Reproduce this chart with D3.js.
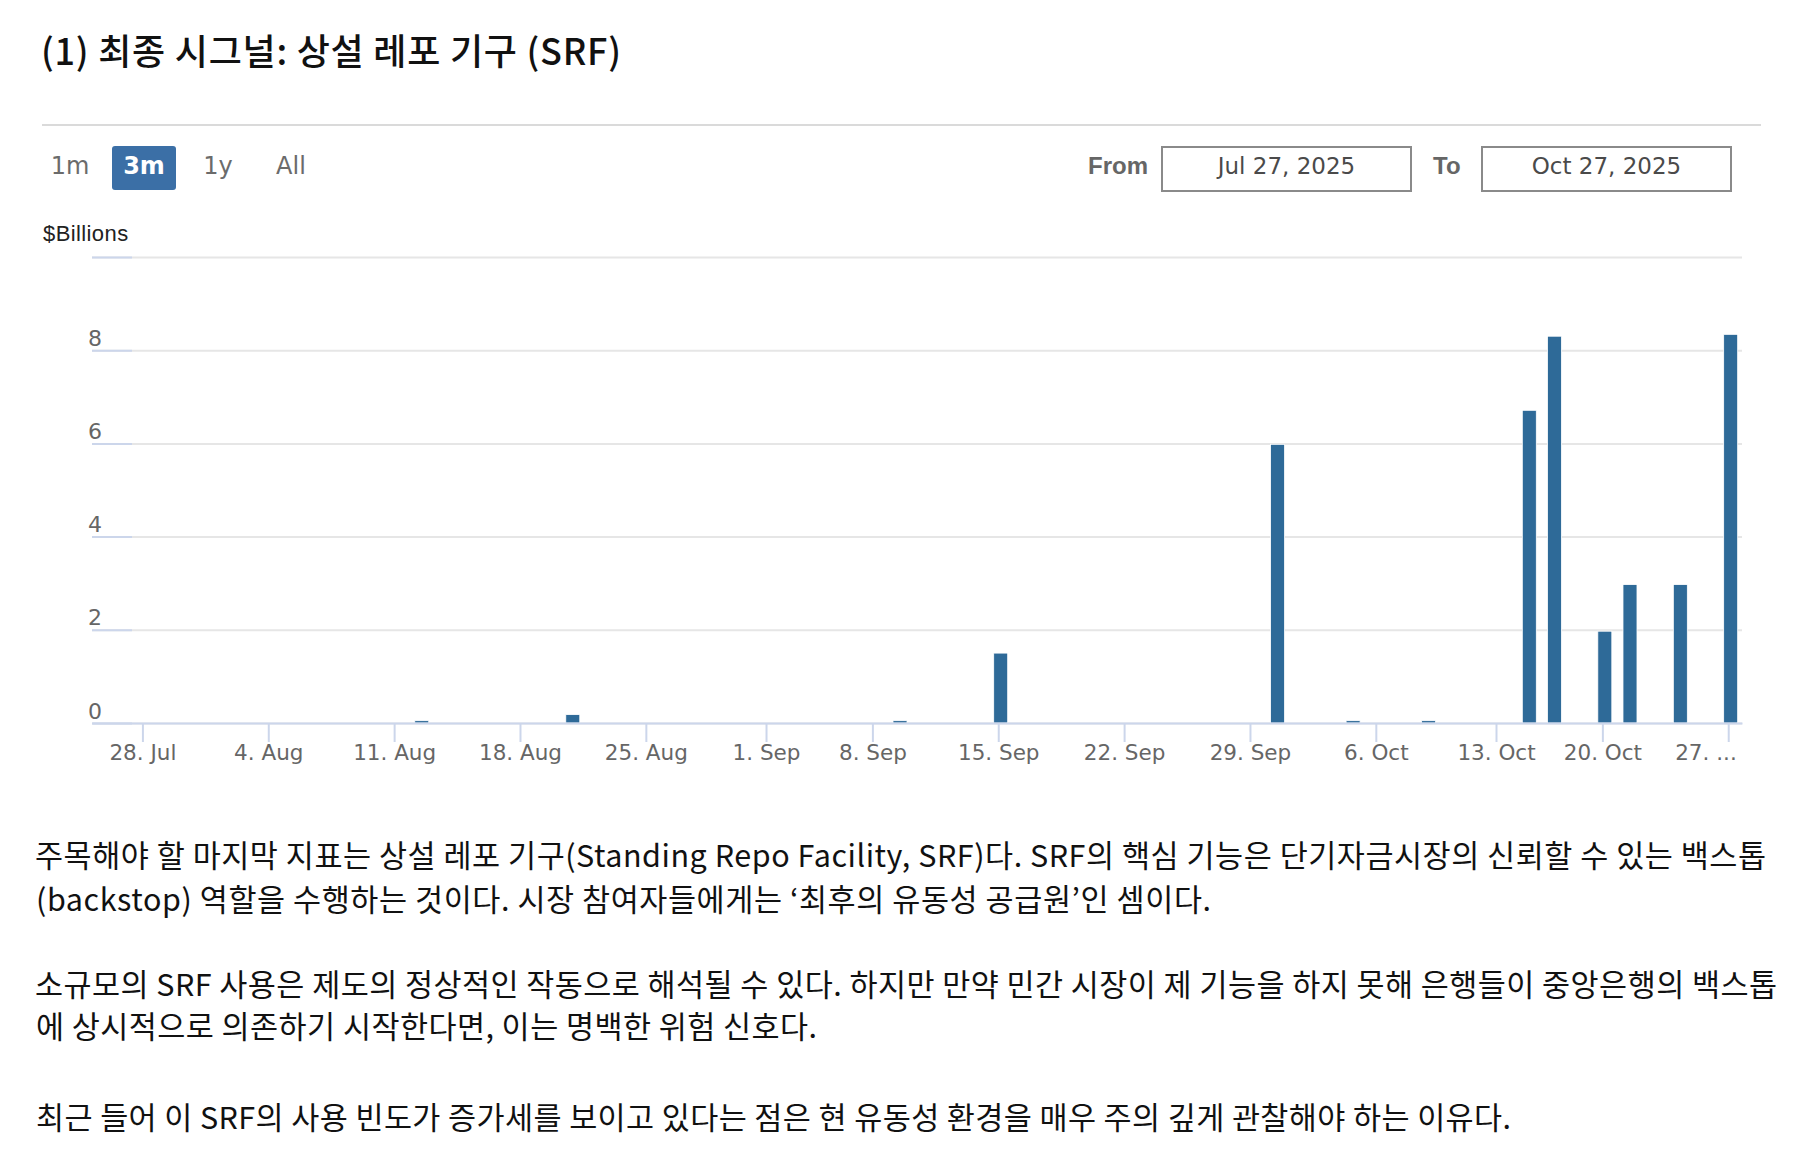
<!DOCTYPE html>
<meta charset="utf-8">
<style>
    html, body { margin: 0; padding: 0; background: #fff; }
    svg { display: block; }
    .kr { font-family: "Noto Sans CJK KR", sans-serif; fill: #111; }
    .ui { font-family: "DejaVu Sans", sans-serif; }
    .lab { font-family: "Liberation Sans", Arial, sans-serif; }
</style>
<svg id="page" width="1812" height="1172"></svg>
<script src="https://d3js.org/d3.v7.min.js"></script>
<script>
    // SRF take-up, $ billions (every other trading day is 0)
    const useDates = ["2025-08-12", "2025-08-20", "2025-09-09", "2025-09-15", "2025-09-30", "2025-10-03",
        "2025-10-08", "2025-10-15", "2025-10-16", "2025-10-20", "2025-10-21", "2025-10-23", "2025-10-27"];
    const useValues = [0.05, 0.18, 0.05, 1.5, 5.98, 0.05, 0.05, 6.71, 8.30, 1.97, 2.97, 2.97, 8.34];

    // trading calendar shown in the window (market holidays have no point)
    const firstDay = "2025-07-24", lastDay = "2025-10-27";
    const holidays = ["2025-09-01", "2025-10-13"];

    const tickDates = ["2025-07-28", "2025-08-04", "2025-08-11", "2025-08-18", "2025-08-25", "2025-09-01", "2025-09-08",
        "2025-09-15", "2025-09-22", "2025-09-29", "2025-10-06", "2025-10-13", "2025-10-20", "2025-10-27"];
    const tickLabels = ["28. Jul", "4. Aug", "11. Aug", "18. Aug", "25. Aug", "1. Sep", "8. Sep",
        "15. Sep", "22. Sep", "29. Sep", "6. Oct", "13. Oct", "20. Oct", "27. ..."];
    const yTicks = [0, 2, 4, 6, 8, 10];
    const yLabels = [0, 2, 4, 6, 8];

    const rangeButtons = ["1m", "3m", "1y", "All"];
    const activeButton = "3m";
    const fromDate = "Jul 27, 2025", toDate = "Oct 27, 2025";

    const title = "(1) 최종 시그널: 상설 레포 기구 (SRF)";
    const bodyLines = [
        "주목해야 할 마지막 지표는 상설 레포 기구(Standing Repo Facility, SRF)다. SRF의 핵심 기능은 단기자금시장의 신뢰할 수 있는 백스톱",
        "(backstop) 역할을 수행하는 것이다. 시장 참여자들에게는 ‘최후의 유동성 공급원’인 셈이다.",
        "소규모의 SRF 사용은 제도의 정상적인 작동으로 해석될 수 있다. 하지만 만약 민간 시장이 제 기능을 하지 못해 은행들이 중앙은행의 백스톱",
        "에 상시적으로 의존하기 시작한다면, 이는 명백한 위험 신호다.",
        "최근 들어 이 SRF의 사용 빈도가 증가세를 보이고 있다는 점은 현 유동성 환경을 매우 주의 깊게 관찰해야 하는 이유다."
    ];

    const svg = d3.select("#page");
    const parse = d3.utcParse("%Y-%m-%d");
    const fmt = d3.utcFormat("%Y-%m-%d");

    // ---- title + rule ----
    svg.append("text").attr("class", "kr")
        .attr("x", 41).attr("y", 65)
        .style("font-size", "36px").style("font-weight", 500)
        .attr("textLength", 580).attr("lengthAdjust", "spacing")
        .text(title);

    svg.append("line")
        .attr("x1", 42).attr("x2", 1761).attr("y1", 125).attr("y2", 125)
        .attr("stroke", "#dadada").attr("stroke-width", 2);

    // ---- range selector ----
    const btnX = [70, 144, 218, 291];
    svg.append("rect")
        .attr("x", 112).attr("y", 146).attr("width", 64).attr("height", 44).attr("rx", 3)
        .attr("fill", "#3b6fa6");
    svg.selectAll(".btn").data(rangeButtons).join("text")
        .attr("class", "btn ui")
        .attr("x", (d, i) => btnX[i]).attr("y", 174)
        .attr("text-anchor", "middle")
        .style("font-size", "24px")
        .style("font-weight", d => d === activeButton ? "bold" : "normal")
        .attr("fill", d => d === activeButton ? "#fff" : "#6b6b6b")
        .text(d => d);

    // from / to inputs
    const inputs = [
        { label: "From", lx: 1088, bx: 1162, value: fromDate },
        { label: "To", lx: 1433, bx: 1482, value: toDate }
    ];
    inputs.forEach(o => {
        svg.append("text").attr("class", "lab")
            .attr("x", o.lx).attr("y", 174)
            .style("font-size", "24px").style("font-weight", "bold")
            .attr("fill", "#666").text(o.label);
        svg.append("rect")
            .attr("x", o.bx).attr("y", 147).attr("width", 249).attr("height", 44)
            .attr("fill", "none").attr("stroke", "#8a8a8a").attr("stroke-width", 2);
        svg.append("text").attr("class", "ui")
            .attr("x", o.bx + 124.5).attr("y", 174)
            .attr("text-anchor", "middle")
            .style("font-size", "23px").attr("fill", "#4a4a4a")
            .text(o.value);
    });

    svg.append("text").attr("class", "lab")
        .attr("x", 43).attr("y", 241)
        .style("font-size", "22px").attr("fill", "#222")
        .attr("letter-spacing", 0.4)
        .text("$Billions");

    // ---- chart ----
    const days = d3.utcDay.range(parse(firstDay), d3.utcDay.offset(parse(lastDay), 1))
        .filter(d => d.getUTCDay() % 6 !== 0 && !holidays.includes(fmt(d)));
    const valueOf = new Map(useDates.map((d, i) => [d, useValues[i]]));
    const data = days.map((d, i) => ({ i, date: d, value: valueOf.get(fmt(d)) || 0 }));

    // ordinal axis: points are evenly spaced; calendar dates are interpolated between neighbouring points
    const pointTimes = days.map(d => +d + 7 * 3600e3);
    function ordinalIndex(t) {
        const k = d3.bisectRight(pointTimes, t);
        const a = pointTimes[k - 1], b = pointTimes[k];
        return k - 1 + (t - a) / (b - a);
    }

    const x = d3.scaleLinear().domain([-0.1, days.length - 1 + 0.45]).range([92, 1742]);
    const y = d3.scaleLinear().domain([0, 10]).range([723, 257]);

    // gridlines
    svg.append("g")
        .attr("transform", "translate(92,0)")
        .call(d3.axisLeft(y).tickValues(yTicks).tickSize(-1650).tickFormat(""))
        .call(g => g.select(".domain").remove())
        .call(g => g.selectAll("line").attr("stroke", "#e6e6e6").attr("stroke-width", 2));

    // short y ticks + labels
    svg.append("g")
        .attr("transform", "translate(92,0)")
        .call(d3.axisLeft(y).tickValues(yTicks).tickSize(-40).tickFormat(d => yLabels.includes(d) ? d : ""))
        .call(g => g.select(".domain").remove())
        .call(g => g.selectAll("line").attr("stroke", "#ccd6eb").attr("stroke-width", 2))
        .call(g => g.selectAll("text")
            .attr("x", -4).attr("y", -5).attr("dy", null)
            .attr("text-anchor", "start")
            .attr("fill", "#666")
            .style("font-family", "DejaVu Sans").style("font-size", "22px"));

    // bars
    svg.append("g").selectAll("rect")
        .data(data.filter(d => d.value > 0))
        .join("rect")
        .attr("x", d => x(d.i) - 7)
        .attr("width", 14)
        .attr("y", d => y(d.value))
        .attr("height", d => y(0) - y(d.value))
        .attr("fill", "#2e6a98")
        .attr("stroke", "#fff").attr("stroke-width", 0.8);

    // x axis
    const tickIdx = tickDates.map(d => ordinalIndex(+parse(d)));
    svg.append("g")
        .attr("transform", "translate(0,723)")
        .call(d3.axisBottom(x).tickValues(tickIdx).tickSize(19).tickSizeOuter(0).tickPadding(3)
            .tickFormat((d, i) => tickLabels[i]))
        .call(g => g.select(".domain").attr("stroke", "#ccd6eb").attr("stroke-width", 2))
        .call(g => g.selectAll(".tick line").attr("stroke", "#ccd6eb").attr("stroke-width", 2))
        .call(g => g.selectAll(".tick text")
            .attr("fill", "#666")
            .style("font-family", "DejaVu Sans").style("font-size", "21.5px"))
        .call(g => g.select(".tick:last-of-type text")
            .attr("text-anchor", "end").attr("x", 8));

    // ---- body text ----
    const lineY = [867, 911, 996, 1038, 1129];
    const lineX = [35, 36, 35, 36, 36];
    const lineW = [1731, 1175, 1742, 781, 1475];
    svg.selectAll(".body").data(bodyLines).join("text")
        .attr("class", "body kr")
        .attr("x", (d, i) => lineX[i]).attr("y", (d, i) => lineY[i])
        .style("font-size", "30.5px")
        .attr("textLength", (d, i) => lineW[i]).attr("lengthAdjust", "spacing")
        .text(d => d);
</script>
